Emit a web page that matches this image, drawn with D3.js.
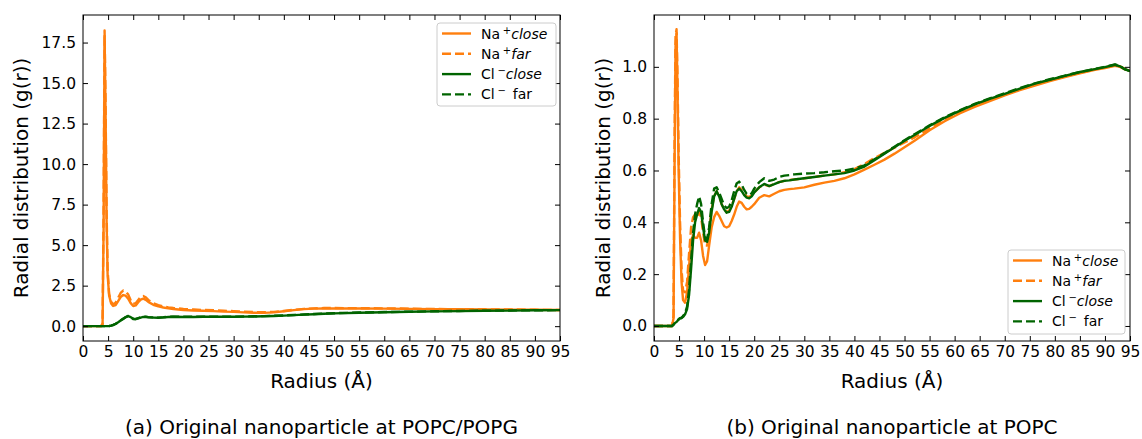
<!DOCTYPE html>
<html>
<head>
<meta charset="utf-8">
<script src="https://cdn.jsdelivr.net/npm/d3@7"></script>
<style>
  body { margin: 0; background: #fff; }
  svg { display: block; }
  text { font-family: "DejaVu Sans", sans-serif; fill: #000; }
</style>
</head>
<body>
<svg id="fig" width="1142" height="439"></svg>
<script>
// ---- Panel (a): POPC/POPG ----
const radiusA = [0, 3.6, 3.9, 4.1, 4.3, 4.5, 4.7, 4.9, 5.2, 5.6,
  6.0, 6.5, 7.0, 7.5, 8.0, 8.5, 9.0, 9.5, 10.0, 10.5,
  11.0, 11.5, 12.0, 12.5, 13, 14, 15, 16, 17, 18,
  20, 22, 24, 26, 28, 30, 32, 34, 36, 38,
  40, 42, 44, 46, 48, 50, 55, 60, 65, 70,
  75, 80, 85, 90, 95];
const naCloseA = [0, 0, 0.1, 6.0, 17.9, 13.0, 6.5, 3.2, 1.9, 1.4,
  1.25, 1.3, 1.55, 1.8, 1.92, 1.88, 1.7, 1.42, 1.24, 1.28,
  1.48, 1.64, 1.7, 1.62, 1.5, 1.32, 1.22, 1.15, 1.1, 1.06,
  1.0, 0.97, 0.95, 0.93, 0.9, 0.88, 0.85, 0.83, 0.82, 0.85,
  0.92, 0.99, 1.05, 1.08, 1.09, 1.1, 1.09, 1.08, 1.07, 1.05,
  1.04, 1.03, 1.02, 1.01, 1.0];
const naFarA = [0, 0, 0.15, 7.0, 18.25, 13.5, 7.0, 3.5, 2.0, 1.5,
  1.35, 1.45, 1.75, 2.05, 2.2, 2.15, 1.95, 1.6, 1.38, 1.42,
  1.62, 1.8, 1.86, 1.78, 1.62, 1.42, 1.3, 1.22, 1.16, 1.12,
  1.06, 1.03, 1.0, 0.98, 0.95, 0.93, 0.9, 0.87, 0.86, 0.88,
  0.94, 1.01, 1.07, 1.1, 1.12, 1.12, 1.11, 1.1, 1.08, 1.06,
  1.05, 1.04, 1.03, 1.01, 1.0];
const clCloseA = [0, 0, 0, 0, 0, 0, 0, 0, 0.01, 0.03,
  0.07, 0.14, 0.24, 0.35, 0.45, 0.55, 0.62, 0.56, 0.44, 0.43,
  0.48, 0.53, 0.57, 0.57, 0.55, 0.53, 0.52, 0.54, 0.57, 0.58,
  0.57, 0.57, 0.58, 0.58, 0.58, 0.58, 0.59, 0.6, 0.61, 0.63,
  0.65, 0.68, 0.71, 0.74, 0.77, 0.79, 0.83, 0.86, 0.89, 0.91,
  0.93, 0.95, 0.96, 0.98, 0.99];
const clFarA = [0, 0, 0, 0, 0, 0, 0, 0, 0.01, 0.03,
  0.08, 0.15, 0.25, 0.36, 0.46, 0.56, 0.63, 0.57, 0.46, 0.45,
  0.5, 0.55, 0.58, 0.58, 0.56, 0.54, 0.53, 0.55, 0.58, 0.59,
  0.58, 0.58, 0.59, 0.59, 0.59, 0.59, 0.6, 0.61, 0.62, 0.64,
  0.66, 0.69, 0.72, 0.75, 0.78, 0.8, 0.84, 0.87, 0.89, 0.92,
  0.94, 0.95, 0.97, 0.98, 0.99];

// ---- Panel (b): POPC ----
const radiusB = [0, 3.6, 3.9, 4.1, 4.3, 4.5, 4.7, 4.9, 5.2, 5.5,
  5.8, 6.2, 6.6, 7.0, 7.4, 7.8, 8.2, 8.6, 9.0, 9.4,
  9.8, 10.2, 10.6, 11.0, 11.5, 12.0, 12.5, 13.0, 13.5, 14.0,
  14.5, 15.0, 15.5, 16.0, 16.5, 17.0, 17.5, 18.0, 18.5, 19.0,
  19.5, 20, 21, 22, 23, 24, 25, 26, 27, 28,
  30, 32, 34, 36, 38, 40, 42, 44, 46, 48,
  50, 52, 55, 58, 61, 64, 67, 70, 73, 76,
  79, 82, 85, 88, 90, 92, 93, 94, 95];
const naCloseB = [0, 0, 0.03, 0.6, 1.08, 1.13, 0.9, 0.62, 0.34, 0.17,
  0.1, 0.09, 0.13, 0.23, 0.33, 0.35, 0.34, 0.34, 0.36, 0.33,
  0.27, 0.235, 0.25, 0.31, 0.38, 0.42, 0.44, 0.425, 0.405, 0.385,
  0.38, 0.385, 0.405, 0.43, 0.46, 0.48, 0.475, 0.46, 0.45, 0.452,
  0.46, 0.47, 0.495, 0.505, 0.5, 0.51, 0.52, 0.525, 0.528, 0.53,
  0.535, 0.545, 0.553, 0.56, 0.57, 0.585, 0.603, 0.622, 0.642, 0.665,
  0.69, 0.715, 0.755, 0.79, 0.82, 0.845, 0.868, 0.89, 0.91, 0.928,
  0.945, 0.96, 0.975, 0.988, 0.995, 1.004, 1.0, 0.99, 0.985];
const naFarB = [0, 0, 0.04, 0.7, 1.12, 1.145, 0.95, 0.68, 0.4, 0.22,
  0.135, 0.13, 0.17, 0.28, 0.38, 0.42, 0.43, 0.42, 0.44, 0.42,
  0.36, 0.31, 0.31, 0.36, 0.45, 0.5, 0.52, 0.5, 0.47, 0.45,
  0.44, 0.445, 0.465, 0.49, 0.52, 0.535, 0.525, 0.51, 0.5, 0.498,
  0.505, 0.515, 0.535, 0.545, 0.54, 0.548, 0.555, 0.56, 0.563, 0.565,
  0.57, 0.575, 0.58, 0.585, 0.593, 0.605, 0.625, 0.648, 0.668, 0.688,
  0.708, 0.728, 0.762, 0.795, 0.825, 0.85, 0.872, 0.893, 0.913, 0.93,
  0.948, 0.963, 0.978, 0.99, 0.998, 1.006, 1.002, 0.992, 0.986];
const clCloseB = [0, 0, 0.005, 0.01, 0.013, 0.016, 0.02, 0.025, 0.03, 0.03,
  0.035, 0.045, 0.065, 0.12, 0.22, 0.33, 0.4, 0.43, 0.455, 0.44,
  0.38, 0.33, 0.325, 0.36, 0.44, 0.5, 0.52, 0.5, 0.47, 0.45,
  0.437, 0.44, 0.46, 0.49, 0.52, 0.53, 0.52, 0.505, 0.495, 0.493,
  0.5, 0.515, 0.535, 0.548, 0.54, 0.547, 0.555, 0.56, 0.562, 0.565,
  0.57, 0.575, 0.58, 0.585, 0.59, 0.6, 0.615, 0.64, 0.665, 0.69,
  0.715, 0.737, 0.772, 0.803, 0.83, 0.855, 0.876, 0.896, 0.916, 0.935,
  0.95, 0.965, 0.98, 0.991, 0.999, 1.008, 1.002, 0.99, 0.983];
const clFarB = [0, 0, 0.005, 0.01, 0.013, 0.016, 0.02, 0.025, 0.03, 0.032,
  0.038, 0.05, 0.075, 0.14, 0.25, 0.36, 0.43, 0.47, 0.5, 0.47,
  0.4, 0.34, 0.335, 0.38, 0.47, 0.53, 0.535, 0.515, 0.49, 0.465,
  0.455, 0.46, 0.485, 0.52, 0.55, 0.557, 0.545, 0.525, 0.51, 0.505,
  0.512, 0.53, 0.555, 0.57, 0.56, 0.565, 0.575, 0.58, 0.582, 0.585,
  0.588, 0.59, 0.593, 0.597, 0.6, 0.607, 0.62, 0.643, 0.667, 0.692,
  0.717, 0.74, 0.774, 0.805, 0.832, 0.857, 0.878, 0.898, 0.918, 0.936,
  0.952, 0.966, 0.98, 0.992, 1.0, 1.009, 1.003, 0.991, 0.984];

// ---- Ticks and labels ----
const xTickValues = [0, 5, 10, 15, 20, 25, 30, 35, 40, 45, 50, 55, 60, 65, 70, 75, 80, 85, 90, 95];
const yTicksA = [0, 2.5, 5, 7.5, 10, 12.5, 15, 17.5];
const yTicksB = [0, 0.2, 0.4, 0.6, 0.8, 1.0];
const seriesNames = ["naClose", "naFar", "clClose", "clFar"];
const xLabel = "Radius (Å)";
const yLabel = "Radial distribution (g(r))";
const captions = ["(a) Original nanoparticle at POPC/POPG", "(b) Original nanoparticle at POPC"];

const ORANGE = "#ff7f0e";
const GREEN = "#006400";
const styles = {
  naClose: { color: ORANGE, dash: null },
  naFar:   { color: ORANGE, dash: "9,4" },
  clClose: { color: GREEN,  dash: null },
  clFar:   { color: GREEN,  dash: "9,4" }
};

const svg = d3.select("#fig");
svg.append("rect").attr("width", 1142).attr("height", 439).attr("fill", "#fff");

const TOP = 15, BOTTOM = 341;

function drawPanel(p) {
  const g = svg.append("g");
  const x = d3.scaleLinear().domain([0, 95]).range([p.left, p.right]);
  const y = d3.scaleLinear().domain(p.yDomain).range([BOTTOM, TOP]);

  const clipId = "clip-" + p.id;
  g.append("clipPath").attr("id", clipId)
    .append("rect").attr("x", p.left).attr("y", TOP)
    .attr("width", p.right - p.left).attr("height", BOTTOM - TOP);

  const line = d3.line().x(d => x(d[0])).y(d => y(d[1]));
  const plot = g.append("g").attr("clip-path", `url(#${clipId})`);
  seriesNames.forEach(name => {
    const vals = p.series[name];
    const pts = p.radius.map((r, i) => [r, vals[i]]);
    plot.append("path").datum(pts)
      .attr("d", line)
      .attr("fill", "none")
      .attr("stroke", styles[name].color)
      .attr("stroke-width", 2.4)
      .attr("stroke-linejoin", "round")
      .attr("stroke-dasharray", styles[name].dash);
  });

  const tickStyle = sel => {
    sel.select(".domain").remove();
    sel.selectAll(".tick line").attr("stroke", "#000").attr("stroke-width", 1);
    sel.selectAll(".tick text").attr("font-size", 15.5).attr("font-family", "DejaVu Sans");
  };

  g.append("g").attr("transform", `translate(0,${BOTTOM})`)
    .call(d3.axisBottom(x).tickValues(xTickValues).tickFormat(d3.format("d")).tickSize(-5).tickPadding(5))
    .call(tickStyle);
  g.append("g").attr("transform", `translate(0,${TOP})`)
    .call(d3.axisTop(x).tickValues(xTickValues).tickFormat("").tickSize(-5))
    .call(tickStyle);
  g.append("g").attr("transform", `translate(${p.left},0)`)
    .call(d3.axisLeft(y).tickValues(p.yTicks).tickFormat(d3.format(".1f")).tickSize(-5).tickPadding(7))
    .call(tickStyle);
  g.append("g").attr("transform", `translate(${p.right},0)`)
    .call(d3.axisRight(y).tickValues(p.yTicks).tickFormat("").tickSize(-5))
    .call(tickStyle);

  g.append("rect").attr("x", p.left).attr("y", TOP)
    .attr("width", p.right - p.left).attr("height", BOTTOM - TOP)
    .attr("fill", "none").attr("stroke", "#000").attr("stroke-width", 1);

  const cx = (p.left + p.right) / 2;
  g.append("text").attr("x", cx).attr("y", 388).attr("text-anchor", "middle")
    .attr("font-size", 20).text(xLabel);
  g.append("text").attr("transform", `translate(${p.yLabelX},${(TOP + BOTTOM) / 2}) rotate(-90)`)
    .attr("text-anchor", "middle").attr("dy", "0.35em").attr("font-size", 20).text(yLabel);
  g.append("text").attr("x", cx).attr("y", 434).attr("text-anchor", "middle")
    .attr("font-size", 20).text(p.caption);

  // Legend
  const L = p.legend;
  const lg = g.append("g").attr("transform", `translate(${L.x},${L.y})`);
  lg.append("rect").attr("width", L.w).attr("height", L.h).attr("rx", 3)
    .attr("fill", "#fff").attr("fill-opacity", 0.8)
    .attr("stroke", "#cccccc").attr("stroke-width", 1);
  const entries = [
    { key: "naClose", base: "Na", sup: "+", tail: "close", italic: true, gap: "" },
    { key: "naFar",   base: "Na", sup: "+", tail: "far",   italic: true, gap: "" },
    { key: "clClose", base: "Cl", sup: "\u2212", tail: "close", italic: true, gap: "" },
    { key: "clFar",   base: "Cl", sup: "\u2212", tail: "far",   italic: false, gap: "\u2002" }
  ];
  entries.forEach((e, i) => {
    const cy = 10.5 + i * 20.3;
    lg.append("line").attr("x1", 5).attr("x2", 34).attr("y1", cy).attr("y2", cy)
      .attr("stroke", styles[e.key].color).attr("stroke-width", 2.4)
      .attr("stroke-dasharray", styles[e.key].dash);
    const t = lg.append("text").attr("x", 44).attr("y", cy + 5).attr("font-size", 14);
    t.append("tspan").text(e.base + "\u2009");
    t.append("tspan").attr("font-size", 10).attr("dy", -5).text(e.sup);
    t.append("tspan").attr("dy", 5).attr("font-style", e.italic ? "italic" : "normal")
      .text(e.gap + e.tail);
  });
}

drawPanel({
  id: "a", left: 83, right: 560, yDomain: [-0.915, 19.2], yTicks: yTicksA,
  radius: radiusA,
  series: { naClose: naCloseA, naFar: naFarA, clClose: clCloseA, clFar: clFarA },
  yLabelX: 21, caption: captions[0],
  legend: { x: 437, y: 23, w: 119, h: 83 }
});
drawPanel({
  id: "b", left: 654, right: 1130, yDomain: [-0.058, 1.2], yTicks: yTicksB,
  radius: radiusB,
  series: { naClose: naCloseB, naFar: naFarB, clClose: clCloseB, clFar: clFarB },
  yLabelX: 603, caption: captions[1],
  legend: { x: 1008, y: 250, w: 117, h: 84 }
});
</script>
</body>
</html>
